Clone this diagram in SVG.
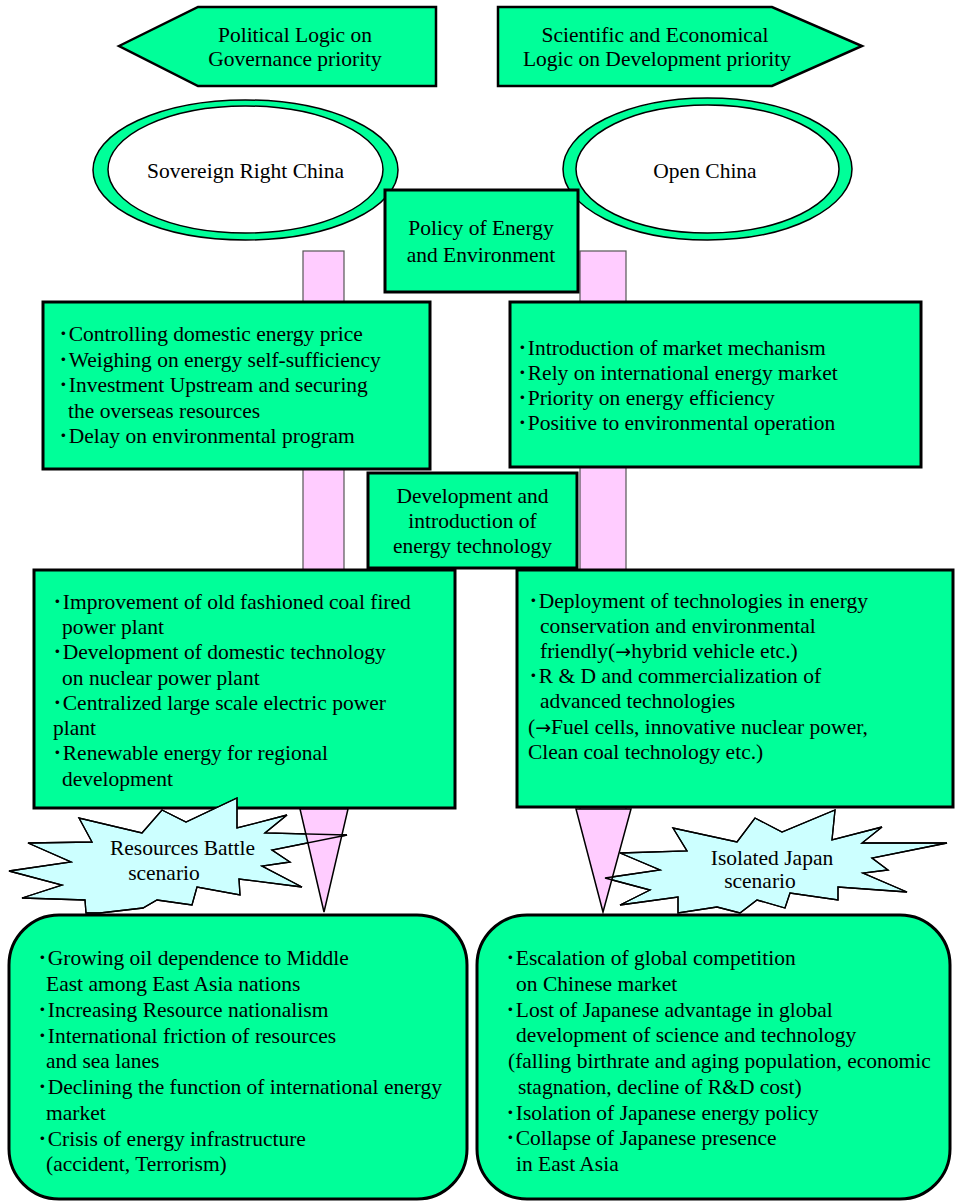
<svg xmlns="http://www.w3.org/2000/svg" xmlns:xlink="http://www.w3.org/1999/xlink" width="963" height="1202" viewBox="0 0 963 1202">
<style>
text{font-family:"Liberation Serif","Noto Sans CJK JP",serif;font-size:21.5px;fill:#000}
.c{text-anchor:middle}
.ar{font-family:"DejaVu Sans",sans-serif;font-size:19px}
.g{fill:#00FF99;stroke:#000;stroke-width:3}
.ga{fill:#00FF99;stroke:#000;stroke-width:2.5}
.el{fill:#00FF99;stroke:#000;stroke-width:1.5}
.eli{fill:#fff;stroke:#000;stroke-width:1.5}
.bar{fill:#FFCCFF;stroke:#555;stroke-width:1.2}
.tri{fill:#FFCCFF;stroke:#000;stroke-width:1.5}
.star{fill:#CCFFFF;stroke:#000;stroke-width:1.3}
.outline{fill:none;stroke:#000;stroke-width:1.3}
</style>
<defs>
<polygon id="star-left" points="9,871 71,862 28,843 92,842 79,818 142,833 162,810 186,822 237,798 237,828 287,815 265,833 347,835 272,850 290,862 262,866 302,887 239,879 240,895 197,887 192,905 157,900 143,908 100,913 86,913 85,900 22,898 62,885"/>
<polygon id="star-right" points="605,878 660,870 620,853 687,851 673,828 737,842 755,818 782,832 835,810 832,840 882,827 862,843 947,843 872,858 888,870 863,873 907,892 838,887 838,900 790,893 785,908 757,900 740,913 717,907 678,913 678,897 620,905 650,890"/>
</defs>
<rect width="963" height="1202" fill="#fff"/>
<g id="political-logic">
<polygon class="ga" points="119,46 198,7 436,7 436,86 198,86"/>
<text class="c" x="295" y="42">Political Logic on</text>
<text class="c" x="295" y="66">Governance priority</text>
</g>
<g id="scientific-logic">
<polygon class="ga" points="498,7 772,7 862,46 772,86 498,86"/>
<text class="c" x="655" y="42">Scientific and Economical</text>
<text class="c" x="657" y="66">Logic on Development priority</text>
</g>
<g id="sovereign-china">
<ellipse class="el" cx="245.5" cy="170" rx="152.5" ry="70"/>
<ellipse class="eli" cx="245.5" cy="169.5" rx="137.5" ry="63.5"/>
<text class="c" x="245.5" y="178">Sovereign Right China</text>
</g>
<g id="open-china">
<ellipse class="el" cx="707.5" cy="169" rx="144.5" ry="71"/>
<ellipse class="eli" cx="707.5" cy="169" rx="131.5" ry="64"/>
<text class="c" x="705" y="178">Open China</text>
</g>
<g id="bars">
<rect class="bar" x="303" y="251" width="41" height="560"/>
<rect class="bar" x="580" y="251" width="46" height="560"/>
</g>
<g id="policy-energy">
<rect class="g" x="385" y="190" width="193" height="102"/>
<text class="c" x="481" y="235">Policy of Energy</text>
<text class="c" x="481" y="262">and Environment</text>
</g>
<g id="sovereign-policy">
<rect class="g" x="43" y="302" width="387" height="167"/>
<text x="58" y="341">･Controlling domestic energy price</text>
<text x="58" y="366.5">･Weighing on energy self-sufficiency</text>
<text x="58" y="392">･Investment Upstream and securing</text>
<text x="68" y="417.5">the overseas resources</text>
<text x="58" y="443">･Delay on environmental program</text>
</g>
<g id="open-policy">
<rect class="g" x="510" y="302" width="411" height="165"/>
<text x="517" y="355">･Introduction of market mechanism</text>
<text x="517" y="380">･Rely on international energy market</text>
<text x="517" y="405">･Priority on energy efficiency</text>
<text x="517" y="430">･Positive to environmental operation</text>
</g>
<g id="energy-technology">
<rect class="g" x="368" y="473" width="209" height="95"/>
<text class="c" x="472.5" y="503">Development and</text>
<text class="c" x="472.5" y="528">introduction of</text>
<text class="c" x="472.5" y="553">energy technology</text>
</g>
<g id="sovereign-technology">
<rect class="g" x="34" y="570" width="421" height="238"/>
<text x="52" y="609">･Improvement of old fashioned coal fired</text>
<text x="62" y="634">power plant</text>
<text x="52" y="659">･Development of domestic technology</text>
<text x="62" y="684.5">on nuclear power plant</text>
<text x="52" y="710">･Centralized large scale electric power</text>
<text x="53" y="735">plant</text>
<text x="52" y="760">･Renewable energy for regional</text>
<text x="62" y="785.5">development</text>
</g>
<g id="open-technology">
<rect class="g" x="517" y="570" width="436" height="237"/>
<text x="528" y="608">･Deployment of technologies in energy</text>
<text x="540" y="633">conservation and environmental</text>
<text x="540" y="658">friendly(<tspan class="ar">→</tspan>hybrid vehicle etc.)</text>
<text x="528" y="683">･R &amp; D and commercialization of</text>
<text x="540" y="708">advanced technologies</text>
<text x="528" y="733.5">(<tspan class="ar">→</tspan>Fuel cells, innovative nuclear power,</text>
<text x="528" y="759">Clean coal technology etc.)</text>
</g>
<g id="resources-battle">
<use xlink:href="#star-left" class="star"/>
</g>
<g id="isolated-japan">
<use xlink:href="#star-right" class="star"/>
</g>
<g id="connectors">
<polygon class="tri" points="300,809 348,809 324,912"/>
<polygon class="tri" points="576,809 631,809 603,912"/>
<use xlink:href="#star-left" class="outline"/>
<use xlink:href="#star-right" class="outline"/>
</g>
<g id="resources-battle-label">
<text class="c" x="182.5" y="855">Resources Battle</text>
<text class="c" x="164" y="880">scenario</text>
</g>
<g id="isolated-japan-label">
<text class="c" x="772" y="865">Isolated Japan</text>
<text class="c" x="760" y="888">scenario</text>
</g>
<g id="resources-battle-outcome">
<rect class="g" x="9" y="915" width="458" height="284" rx="50" ry="50"/>
<text x="37" y="964.5">･Growing oil dependence to Middle</text>
<text x="46" y="990.5">East among East Asia nations</text>
<text x="37" y="1016.5">･Increasing Resource nationalism</text>
<text x="37" y="1042.5">･International friction of resources</text>
<text x="46" y="1068">and sea lanes</text>
<text x="37" y="1093.5">･Declining the function of international energy</text>
<text x="46" y="1119.5">market</text>
<text x="37" y="1145.5">･Crisis of energy infrastructure</text>
<text x="46" y="1170.5">(accident, Terrorism)</text>
</g>
<g id="isolated-japan-outcome">
<rect class="g" x="477" y="915" width="473" height="284" rx="50" ry="50"/>
<text x="505" y="964.5">･Escalation of global competition</text>
<text x="516" y="990.5">on Chinese market</text>
<text x="505" y="1016.5">･Lost of Japanese advantage in global</text>
<text x="516" y="1042">development of science and technology</text>
<text x="508" y="1067.5">(falling birthrate and aging population, economic</text>
<text x="518" y="1093.5">stagnation, decline of R&amp;D cost)</text>
<text x="505" y="1119.5">･Isolation of Japanese energy policy</text>
<text x="505" y="1145">･Collapse of Japanese presence</text>
<text x="516" y="1170.5">in East Asia</text>
</g>
</svg>
